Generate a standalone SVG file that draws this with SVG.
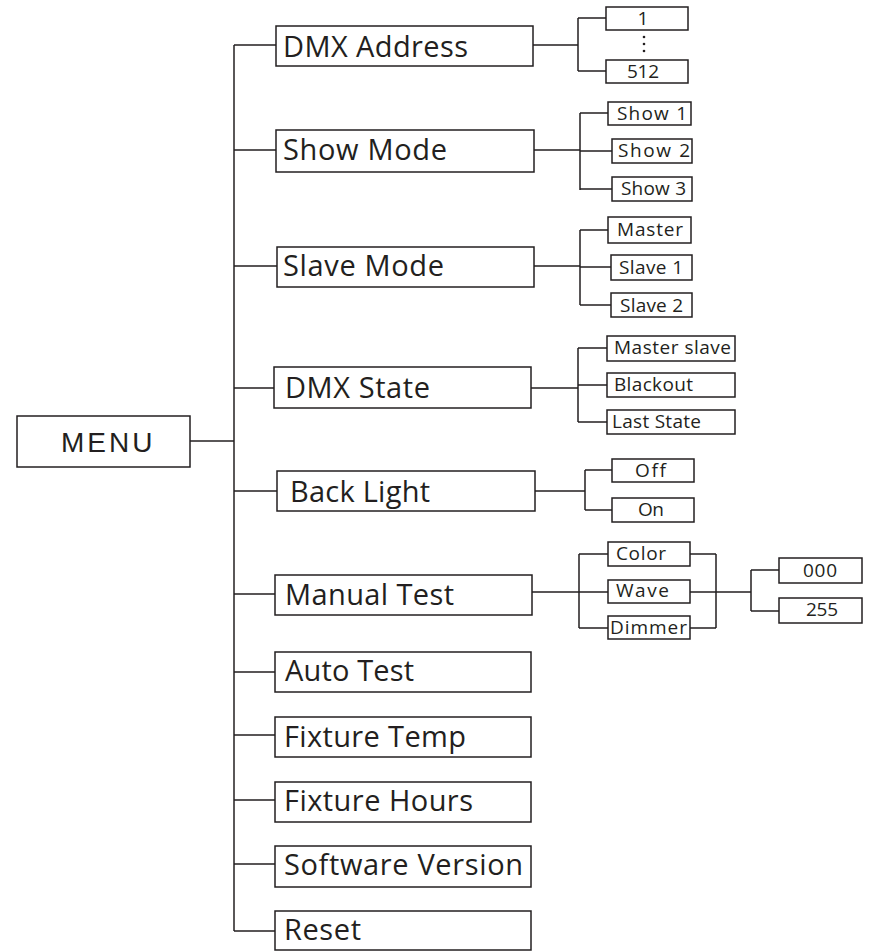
<svg xmlns="http://www.w3.org/2000/svg" width="871" height="952" viewBox="0 0 871 952">
<style>
rect{fill:#fff;stroke:#231f20;stroke-width:1.5}
.c path{fill:none;stroke:#231f20;stroke-width:1.5}
text{fill:#231f20;font-family:"Open Sans","Noto Sans",sans-serif;font-variant-ligatures:none}
.m{font-size:29px}
.s{font-size:19px}
.menu{font-family:"Liberation Sans",Arial,sans-serif;font-size:28px;letter-spacing:3px}
.dot{fill:#231f20}
</style>
<rect x="0" y="0" width="871" height="952" style="fill:#fff;stroke:none"/>
<g class="c" id="connectors">
<path d="M234 45V931"/>
<path d="M190 441H234"/>
<path d="M234 45H276M234 150H276M234 266H277M234 388H274M234 491H277M234 594H275M234 672H275M234 735H275M234 800H275M234 864H275M234 931H275"/>
<path d="M533 45H578M578 18V71M578 18H606M578 71H606"/>
<path d="M534 150H580M580 113V190M580 113H608M580 151H612M580 189H612"/>
<path d="M534 266H580M580 230V305M580 230H608M580 267H611M580 305H611"/>
<path d="M531 388H578M578 348V422M578 348H607M578 385H607M578 422H607"/>
<path d="M535 491H585M585 470V510M585 470H612M585 510H612"/>
<path d="M532 592H579M579 554V628M579 554H608M579 592H608M579 628H608"/>
<path d="M690 554H716M690 628H716M716 554V628M690 592H751M751 570V611M751 570H779M751 611H779"/>
</g>
<g id="menu"><rect x="17" y="416" width="173" height="51"/><text class="menu" x="61" y="452">MENU</text></g>
<g id="dmx-address"><rect x="276" y="26" width="257" height="40"/><text class="m" x="283" y="57" textLength="185">DMX Address</text></g>
<g id="show-mode"><rect x="276" y="130" width="258" height="42"/><text class="m" x="283" y="160" textLength="164">Show Mode</text></g>
<g id="slave-mode"><rect x="277" y="247" width="257" height="40"/><text class="m" x="283" y="276" textLength="161">Slave Mode</text></g>
<g id="dmx-state"><rect x="274" y="367" width="257" height="41"/><text class="m" x="285" y="398" textLength="145">DMX State</text></g>
<g id="back-light"><rect x="277" y="471" width="258" height="40"/><text class="m" x="290" y="502" textLength="140">Back Light</text></g>
<g id="manual-test"><rect x="275" y="575" width="257" height="40"/><text class="m" x="285" y="605" textLength="169">Manual Test</text></g>
<g id="auto-test"><rect x="275" y="652" width="256" height="40"/><text class="m" x="285" y="681" textLength="129">Auto Test</text></g>
<g id="fixture-temp"><rect x="275" y="717" width="256" height="40"/><text class="m" x="284" y="747" textLength="182">Fixture Temp</text></g>
<g id="fixture-hours"><rect x="275" y="782" width="256" height="40"/><text class="m" x="284" y="811" textLength="189">Fixture Hours</text></g>
<g id="software-version"><rect x="275" y="846" width="256" height="41"/><text class="m" x="284" y="875" textLength="239">Software Version</text></g>
<g id="reset"><rect x="275" y="911" width="256" height="39"/><text class="m" x="284" y="940" textLength="77">Reset</text></g>
<g id="addr-1"><rect x="606" y="7" width="82" height="23"/><text class="s" x="643" y="25" text-anchor="middle">1</text></g>
<g id="addr-dots"><circle class="dot" cx="644" cy="37" r="1.3"/><circle class="dot" cx="644" cy="44" r="1.3"/><circle class="dot" cx="644" cy="51" r="1.3"/></g>
<g id="addr-512"><rect x="606" y="60" width="82" height="23"/><text class="s" x="627" y="78" textLength="32">512</text></g>
<g id="show-1"><rect x="608" y="102" width="83" height="23"/><text class="s" x="617" y="120" textLength="70">Show 1</text></g>
<g id="show-2"><rect x="612" y="139" width="80" height="24"/><text class="s" x="618" y="157" textLength="72">Show 2</text></g>
<g id="show-3"><rect x="612" y="177" width="80" height="24"/><text class="s" x="621" y="195" textLength="65">Show 3</text></g>
<g id="master"><rect x="608" y="217" width="83" height="26"/><text class="s" x="617" y="236" textLength="66">Master</text></g>
<g id="slave-1"><rect x="611" y="255" width="81" height="25"/><text class="s" x="619" y="274" textLength="64">Slave 1</text></g>
<g id="slave-2"><rect x="611" y="293" width="81" height="24"/><text class="s" x="620" y="312" textLength="63">Slave 2</text></g>
<g id="master-slave"><rect x="607" y="336" width="128" height="25"/><text class="s" x="614" y="354" textLength="117">Master slave</text></g>
<g id="blackout"><rect x="607" y="373" width="128" height="24"/><text class="s" x="614" y="391" textLength="79">Blackout</text></g>
<g id="last-state"><rect x="607" y="410" width="128" height="24"/><text class="s" x="612" y="428" textLength="89">Last State</text></g>
<g id="off"><rect x="612" y="459" width="82" height="23"/><text class="s" x="635" y="477" textLength="31">Off</text></g>
<g id="on"><rect x="612" y="498" width="82" height="24"/><text class="s" x="638" y="516" textLength="26">On</text></g>
<g id="color"><rect x="608" y="542" width="82" height="24"/><text class="s" x="616" y="560" textLength="50">Color</text></g>
<g id="wave"><rect x="608" y="580" width="82" height="23"/><text class="s" x="616" y="597" textLength="53">Wave</text></g>
<g id="dimmer"><rect x="608" y="616" width="82" height="23"/><text class="s" x="610" y="634" textLength="77">Dimmer</text></g>
<g id="v-000"><rect x="779" y="558" width="83" height="25"/><text class="s" x="803" y="577" textLength="34">000</text></g>
<g id="v-255"><rect x="779" y="598" width="83" height="25"/><text class="s" x="806" y="616" textLength="32">255</text></g>
</svg>
